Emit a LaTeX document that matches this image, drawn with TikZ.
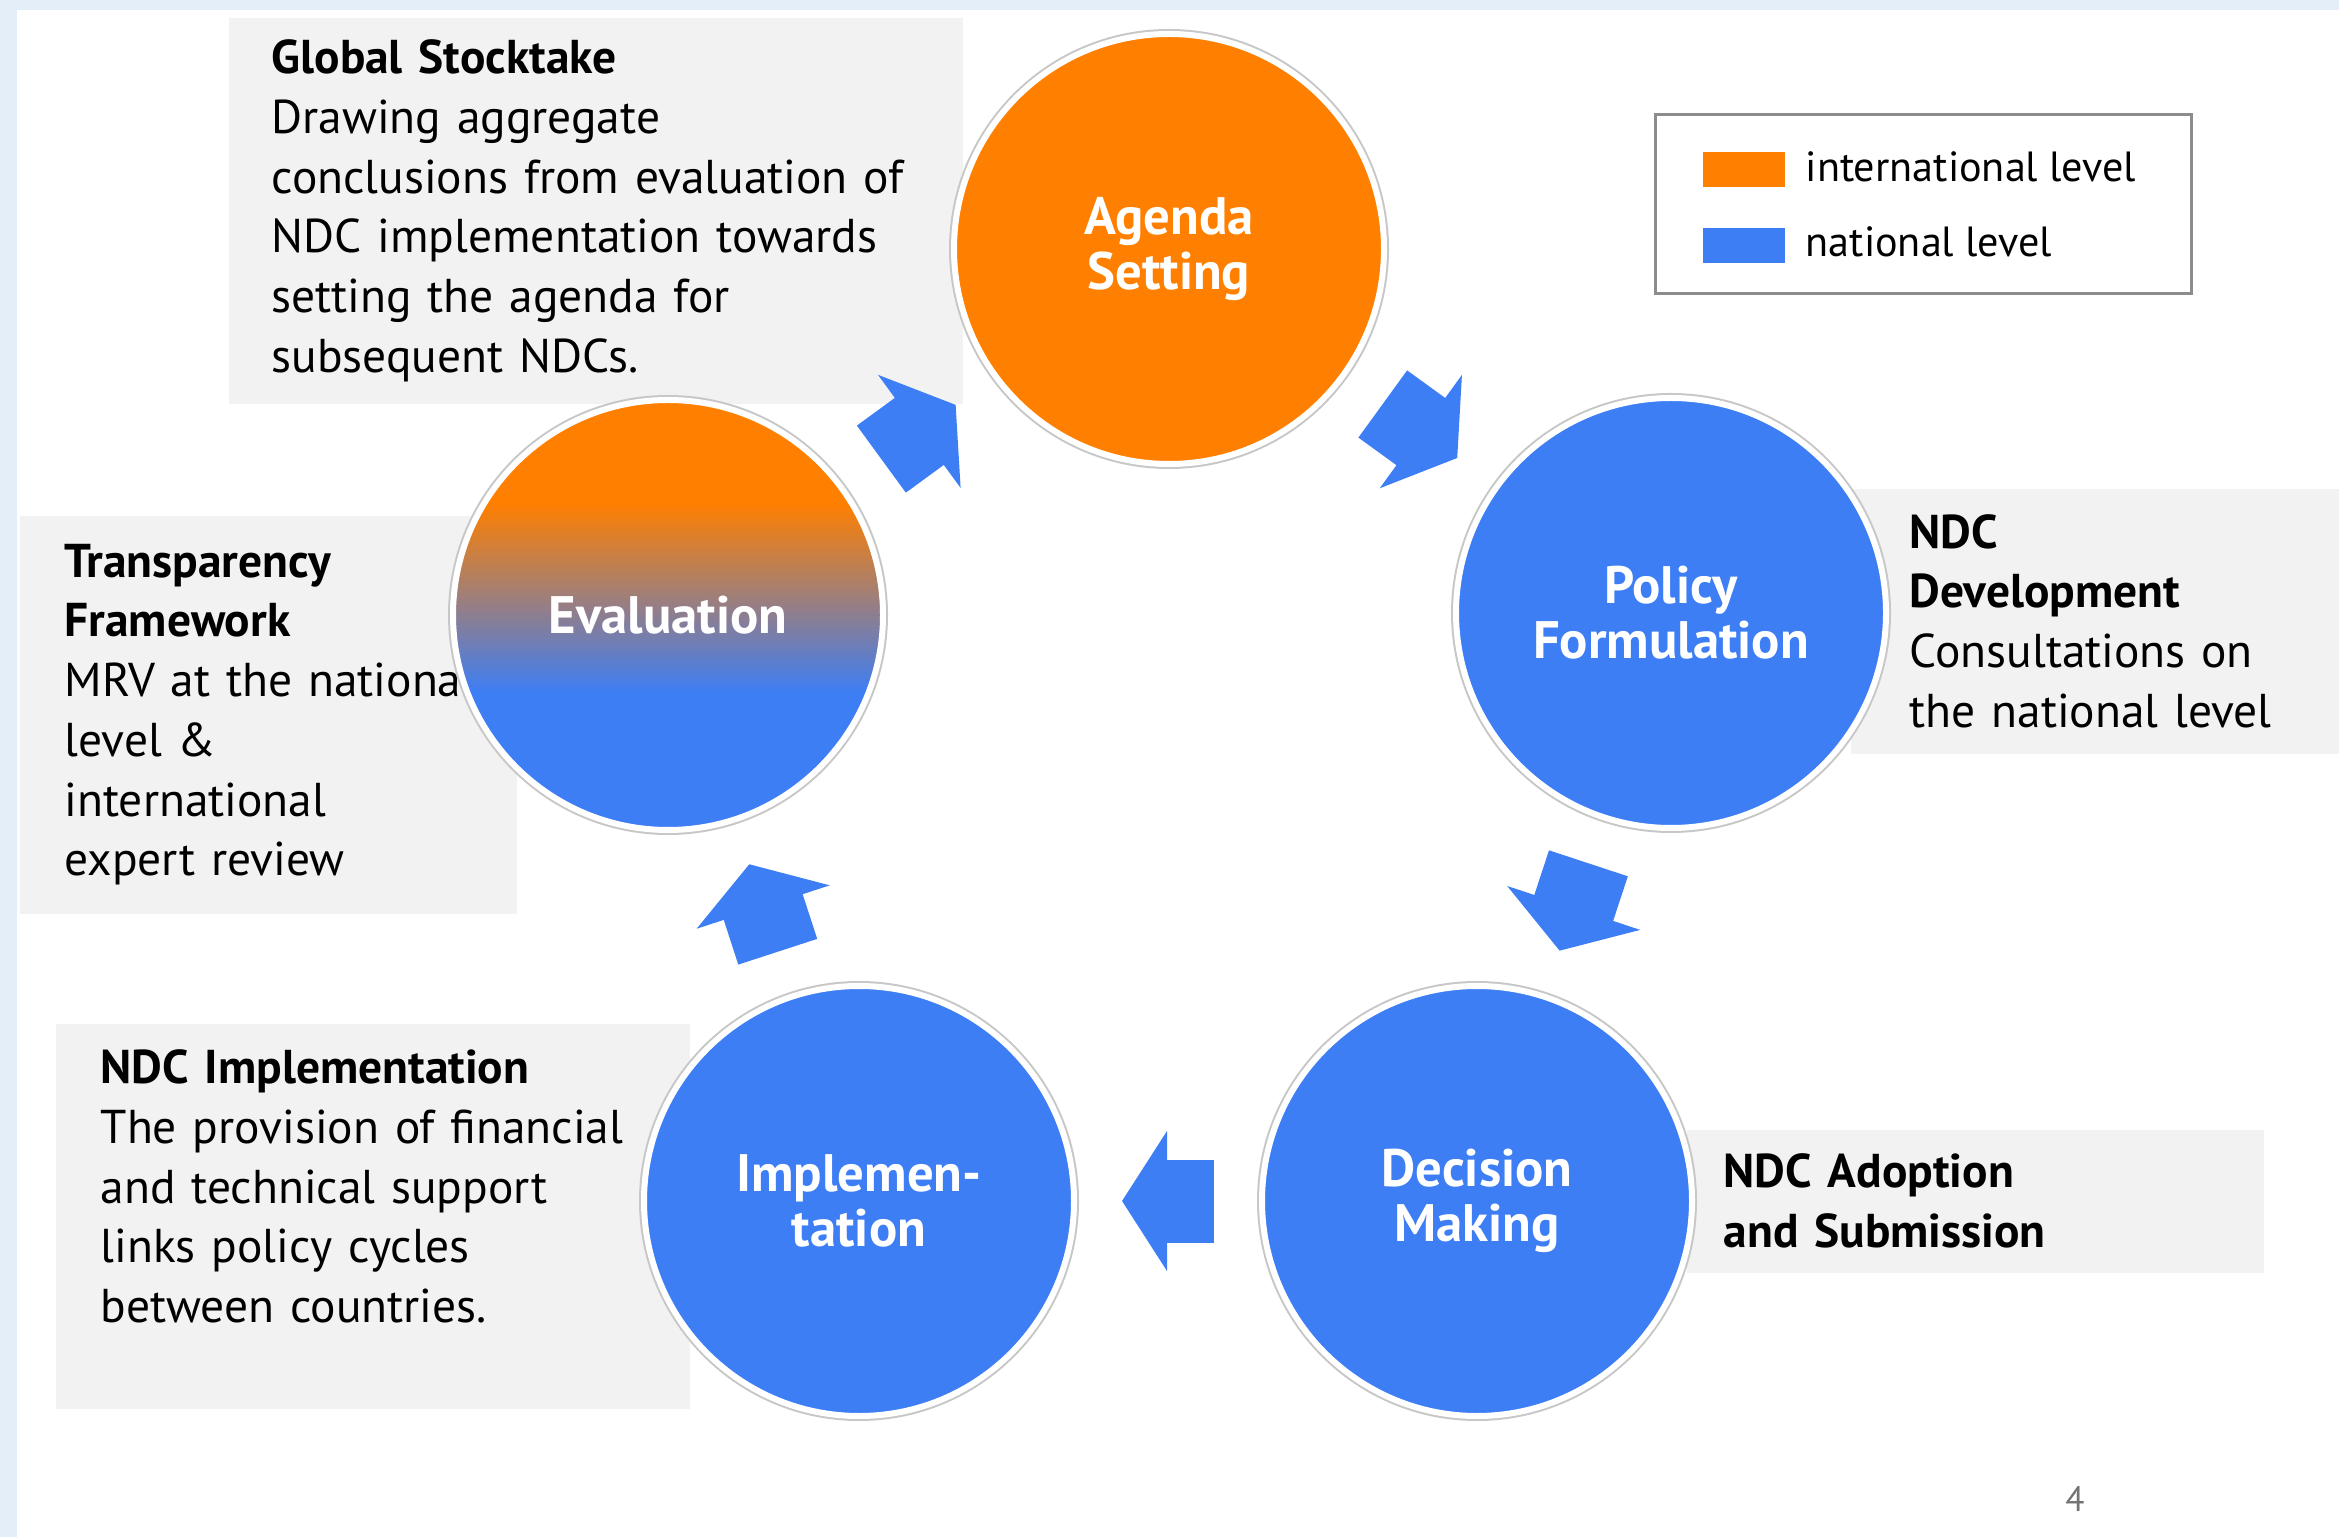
\documentclass[tikz,border=0pt]{standalone}
\usepackage{fontspec}
\setmainfont{PT Sans}
\usepackage{tikz}
\usetikzlibrary{arrows.meta}
\usetikzlibrary{calc}

\definecolor{ndcorange}{RGB}{255,127,0}
\definecolor{ndcblue}{RGB}{61,126,245}
\definecolor{boxgray}{RGB}{242,242,242}
\definecolor{pageblue}{RGB}{228,238,249}

\pgfdeclareverticalshading{evalshading}{100bp}{color(0bp)=(ndcblue); color(41bp)=(ndcblue); color(63bp)=(ndcorange); color(100bp)=(ndcorange)}

\tikzset{
    stage/.style={circle, minimum size=4.3cm, inner sep=0pt, outer sep=0pt, draw=white, line width=0.06cm, preaction={draw=black!22, line width=0.1cm}, text=white, align=center, font=\fontsize{15}{15.6}\selectfont\bfseries},
    infobox/.style={rectangle, fill=boxgray, anchor=north west, inner ysep=0pt, align=left, font=\fontsize{13.5}{17}\selectfont, execute at begin node={\hyphenpenalty=10000\exhyphenpenalty=10000}},
    cyclearrow/.style={draw=ndcblue, line width=0.83cm, -{Triangle[length=0.45cm, width=1.38cm]}},
    swatch/.style={rectangle, anchor=north west, minimum width=0.82cm, minimum height=0.35cm, inner sep=0pt},
    legendtext/.style={anchor=west, inner sep=0pt, font=\fontsize{12}{14}\selectfont}
}

\begin{document}
\begin{tikzpicture}
        \useasboundingbox (0,0) rectangle (23.39,-15.37);
        \fill[pageblue] (0,0) rectangle (23.39,-15.37);
        \fill[white] (0.17,-0.10) rectangle (23.39,-15.37);

        % Boxes
        \node[infobox, minimum width=7.34cm, minimum height=3.86cm, text width=6.48cm, inner xsep=0.43cm] (stocktake) at (2.28,-0.17) {\textbf{Global Stocktake}\\Drawing aggregate\\conclusions~from~evaluation~of\\NDC~implementation~towards\\setting the agenda for\\subsequent NDCs.};
        \node[infobox, minimum width=4.97cm, minimum height=3.98cm, text width=4.07cm, inner xsep=0.45cm] (transparency) at (0.19,-5.15) {\textbf{Transparency}\\\textbf{Framework}\\MRV~at~the~national\\level \&\\international\\expert review};
        \node[infobox, minimum width=4.89cm, minimum height=2.65cm, text width=3.71cm, inner xsep=0.59cm] (development) at (18.50,-4.88) {\textbf{NDC}\\\textbf{Development}\\Consultations~on\\the~national~level};
        \node[infobox, minimum width=6.34cm, minimum height=3.85cm, text width=5.44cm, inner xsep=0.45cm] (implbox) at (0.55,-10.23) {\textbf{NDC Implementation}\\The~provision~of~financial\\and~technical~support\\links policy cycles\\between countries.\rule[-0.6cm]{0pt}{0pt}};
        \node[infobox, minimum width=5.77cm, minimum height=1.43cm, text width=5.03cm, inner xsep=0.37cm] (adoption) at (16.86,-11.29) {\textbf{NDC Adoption}\\\textbf{and Submission}};

        % Legend
        \node[draw=black!45, line width=0.8pt, fill=white, anchor=north west, minimum width=5.36cm, minimum height=1.79cm, inner sep=0pt] (legend) at (16.54,-1.13) {};
        \node[swatch, fill=ndcorange] (intlswatch) at (17.02,-1.51) {};
        \node[swatch, fill=ndcblue] (natswatch) at (17.02,-2.27) {};
        \node[legendtext] (intllabel) at (18.05,-1.67) {international level};
        \node[legendtext] (natlabel) at (18.05,-2.42) {national level};

        % Stages
        \node[stage, fill=ndcorange] (agenda) at (11.69,-2.49) {Agenda\\Setting};
        \node[stage, fill=ndcblue] (policy) at (16.71,-6.13) {Policy\\Formulation};
        \node[stage, fill=ndcblue] (decision) at (14.77,-12.01) {Decision\\Making};
        \node[stage, fill=ndcblue] (implementation) at (8.59,-12.01) {Implemen-\\tation};
        \node[stage, shade, shading=evalshading] (evaluation) at (6.68,-6.15) {Evaluation};

        % Arrows
        \draw[cyclearrow] ($(evaluation)!0.5!(agenda)!-0.46cm!(agenda)$) -- ($(evaluation)!0.5!(agenda)!0.46cm!(agenda)$);
        \draw[cyclearrow] ($(agenda)!0.5!(policy)!-0.46cm!(policy)$) -- ($(agenda)!0.5!(policy)!0.46cm!(policy)$);
        \draw[cyclearrow] ($(policy)!0.5!(decision)!-0.46cm!(decision)$) -- ($(policy)!0.5!(decision)!0.46cm!(decision)$);
        \draw[cyclearrow] ($(decision)!0.5!(implementation)!-0.46cm!(implementation)$) -- ($(decision)!0.5!(implementation)!0.46cm!(implementation)$);
        \draw[cyclearrow] ($(implementation)!0.5!(evaluation)!-0.46cm!(evaluation)$) -- ($(implementation)!0.5!(evaluation)!0.46cm!(evaluation)$);

        % Page number
        \node[text=black!55, font=\fontsize{10}{12}\selectfont] (pagenum) at (20.75,-14.99) {4};
    \end{tikzpicture}
\end{document}
